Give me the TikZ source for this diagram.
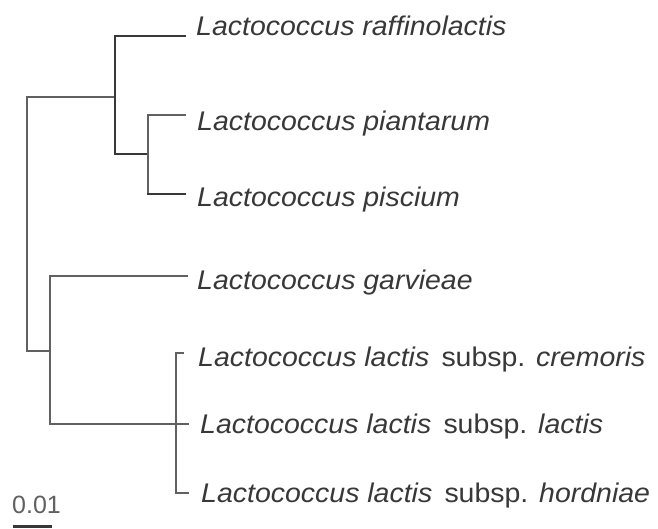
\documentclass[tikz,border=0pt]{standalone}
\usepackage{fontspec}
\setmainfont{Liberation Sans}
\newfontfamily\taxfont[FakeStretch=1.055]{Liberation Sans}
\definecolor{ink}{gray}{0.22}
\definecolor{lineink}{gray}{0.38}
\begin{document}
\begin{tikzpicture}[x=1pt,y=-1pt,
  branch/.style={draw=lineink, line width=1.7pt, line cap=rect},
  darkbranch/.style={draw=ink, line width=2.2pt, line cap=rect},
  taxon/.style={anchor=base west, inner sep=0pt, text=ink,
    font=\taxfont\fontsize{27}{30}\selectfont\itshape},
  scalelabel/.style={anchor=base west, inner sep=0pt, text=ink!80,
    font=\fontsize{25}{28}\selectfont}]
\useasboundingbox (0,0) rectangle (658,528);
% internal node coordinates
\coordinate (r1) at (27,97);  \coordinate (r2) at (27,351);
\coordinate (a)  at (115,97); \coordinate (a1) at (115,36); \coordinate (a2) at (115,154);
\coordinate (b)  at (148,154);\coordinate (b1) at (148,115);\coordinate (b2) at (148,194);
\coordinate (c)  at (50,351); \coordinate (c1) at (50,276); \coordinate (c2) at (50,424);
\coordinate (d1) at (176,353);\coordinate (d2) at (176,493);
% leaf tips
\coordinate (t1) at (185,36);
\coordinate (t2) at (185,115);
\coordinate (t3) at (185,194);
\coordinate (t4) at (187,276);
\coordinate (t5) at (183,353);
\coordinate (t6) at (188,424);
\coordinate (t7) at (188,493);
% labels
\node[taxon] (raf)  at (196,35)  {Lactococcus raffinolactis};
\node[taxon] (pla)  at (197,130) {Lactococcus piantarum};
\node[taxon] (pis)  at (197,206) {Lactococcus piscium};
\node[taxon] (gar)  at (197,289) {Lactococcus garvieae};
\node[taxon] (cre)  at (198,366) {Lactococcus lactis\hspace{0.45em}{\upshape subsp.}\hspace{0.4em}cremoris};
\node[taxon] (lac)  at (200,433) {Lactococcus lactis\hspace{0.45em}{\upshape subsp.}\hspace{0.4em}lactis};
\node[taxon] (hor)  at (201,502) {Lactococcus lactis\hspace{0.45em}{\upshape subsp.}\hspace{0.4em}hordniae};
\node[scalelabel] (sc) at (12,513) {0.01};
% tree
\draw[branch] (r1) -- (r2);
\draw[branch] (r1) -- (a);
\draw[darkbranch] (a1) -- (a2);
\draw[darkbranch] (a1) -- (t1);
\draw[darkbranch] (a2) -- (b);
\draw[branch] (b1) -- (b2);
\draw[branch] (b1) -- (t2);
\draw[darkbranch] (b2) -- (t3);
\draw[branch] (r2) -- (c);
\draw[branch] (c1) -- (c2);
\draw[branch] (c1) -- (t4);
\draw[branch] (c2) -- (t6);
\draw[branch] (d1) -- (d2);
\draw[branch] (d1) -- (t5);
\draw[branch] (d2) -- (t7);
% scale bar
\coordinate (s1) at (13,526); \coordinate (s2) at (52,526);
\draw[draw=ink, line width=3pt] (s1) -- (s2);
\end{tikzpicture}
\end{document}
